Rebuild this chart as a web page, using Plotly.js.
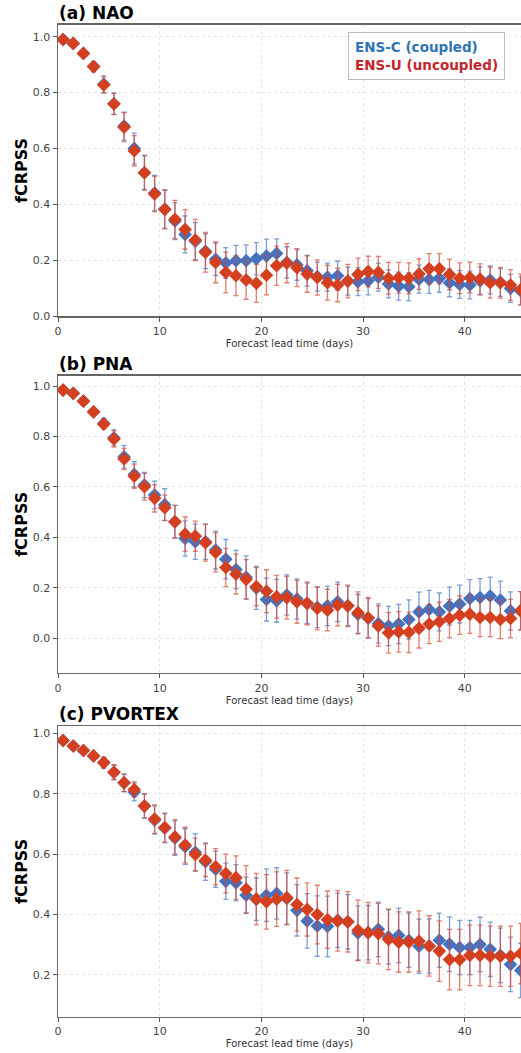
<!DOCTYPE html>
<html><head><meta charset="utf-8">
<script src="https://cdn.plot.ly/plotly-3.0.1.min.js"></script>
<style>html,body{margin:0;padding:0;background:#fff}#chart{width:521px;height:1053px}</style>
</head><body><div id="chart"></div>
<script>
const days = [0.5,1.5,2.5,3.5,4.5,5.5,6.5,7.5,8.5,9.5,10.5,11.5,12.5,13.5,14.5,15.5,16.5,17.5,18.5,19.5,20.5,21.5,22.5,23.5,24.5,25.5,26.5,27.5,28.5,29.5,30.5,31.5,32.5,33.5,34.5,35.5,36.5,37.5,38.5,39.5,40.5,41.5,42.5,43.5,44.5,45.5];

const naoC = [0.99,0.976,0.94,0.893,0.83,0.76,0.68,0.60,0.513,0.44,0.382,0.34,0.292,0.268,0.232,0.203,0.19,0.198,0.198,0.205,0.215,0.224,0.192,0.183,0.162,0.141,0.139,0.144,0.125,0.123,0.126,0.139,0.115,0.107,0.105,0.132,0.131,0.135,0.119,0.113,0.111,0.126,0.129,0.12,0.099,0.09];
const naoU = [0.99,0.976,0.94,0.893,0.827,0.759,0.676,0.592,0.513,0.437,0.382,0.346,0.31,0.272,0.228,0.192,0.156,0.144,0.129,0.117,0.146,0.18,0.189,0.173,0.15,0.138,0.119,0.111,0.125,0.149,0.159,0.156,0.135,0.137,0.135,0.15,0.169,0.169,0.149,0.135,0.138,0.132,0.119,0.119,0.111,0.095];
const naoCerr = [0.004,0.005,0.006,0.018,0.03,0.038,0.05,0.055,0.06,0.063,0.068,0.066,0.066,0.066,0.062,0.058,0.055,0.055,0.057,0.058,0.06,0.052,0.056,0.055,0.055,0.052,0.05,0.052,0.05,0.05,0.05,0.05,0.05,0.05,0.05,0.05,0.05,0.05,0.05,0.05,0.05,0.05,0.05,0.05,0.05,0.05];
const naoUerr = [0.004,0.005,0.006,0.018,0.029,0.038,0.052,0.054,0.062,0.064,0.07,0.068,0.071,0.074,0.071,0.073,0.073,0.071,0.069,0.068,0.07,0.07,0.07,0.068,0.065,0.063,0.062,0.06,0.06,0.058,0.055,0.057,0.057,0.055,0.055,0.055,0.054,0.054,0.055,0.055,0.055,0.055,0.055,0.055,0.055,0.055];

const pnaC = [0.984,0.971,0.94,0.898,0.852,0.795,0.72,0.65,0.608,0.568,0.53,0.462,0.396,0.383,0.383,0.35,0.314,0.273,0.242,0.2,0.154,0.149,0.172,0.156,0.139,0.123,0.129,0.145,0.129,0.096,0.08,0.059,0.049,0.057,0.075,0.105,0.115,0.105,0.128,0.136,0.158,0.162,0.168,0.152,0.109,0.11];
const pnaU = [0.984,0.971,0.94,0.898,0.849,0.79,0.711,0.643,0.601,0.555,0.518,0.462,0.413,0.405,0.379,0.341,0.281,0.255,0.234,0.205,0.187,0.165,0.161,0.145,0.139,0.119,0.112,0.132,0.129,0.102,0.082,0.049,0.022,0.026,0.024,0.04,0.057,0.066,0.079,0.092,0.096,0.083,0.083,0.075,0.079,0.109];
const pnaCerr = [0.004,0.005,0.006,0.01,0.02,0.032,0.045,0.05,0.05,0.055,0.063,0.065,0.07,0.07,0.07,0.075,0.078,0.076,0.085,0.085,0.085,0.085,0.08,0.08,0.08,0.08,0.078,0.078,0.078,0.078,0.078,0.078,0.078,0.078,0.078,0.078,0.075,0.075,0.075,0.075,0.075,0.075,0.075,0.075,0.075,0.075];
const pnaUerr = [0.004,0.005,0.006,0.01,0.02,0.032,0.042,0.048,0.053,0.054,0.05,0.065,0.068,0.06,0.073,0.077,0.076,0.079,0.078,0.076,0.085,0.085,0.085,0.085,0.085,0.085,0.082,0.082,0.082,0.082,0.08,0.08,0.08,0.08,0.08,0.078,0.078,0.078,0.076,0.076,0.076,0.076,0.076,0.076,0.076,0.076];

const pvC = [0.976,0.958,0.943,0.925,0.903,0.871,0.836,0.806,0.759,0.713,0.686,0.653,0.625,0.606,0.575,0.55,0.51,0.505,0.464,0.451,0.464,0.47,0.453,0.414,0.379,0.362,0.361,0.381,0.376,0.339,0.34,0.351,0.326,0.331,0.315,0.295,0.296,0.315,0.302,0.291,0.291,0.301,0.285,0.265,0.235,0.215];
const pvU = [0.976,0.958,0.943,0.925,0.903,0.871,0.836,0.814,0.759,0.716,0.688,0.657,0.63,0.599,0.58,0.558,0.536,0.522,0.484,0.451,0.442,0.451,0.456,0.433,0.417,0.4,0.383,0.379,0.376,0.348,0.34,0.337,0.318,0.309,0.309,0.312,0.296,0.279,0.251,0.251,0.265,0.265,0.262,0.262,0.262,0.271];
const pvCerr = [0.004,0.005,0.006,0.012,0.017,0.024,0.029,0.03,0.04,0.047,0.048,0.057,0.059,0.062,0.062,0.06,0.06,0.06,0.06,0.07,0.087,0.085,0.085,0.085,0.09,0.1,0.1,0.09,0.09,0.09,0.09,0.09,0.09,0.09,0.09,0.09,0.09,0.09,0.09,0.09,0.09,0.09,0.09,0.09,0.09,0.09];
const pvUerr = [0.004,0.005,0.006,0.012,0.017,0.024,0.029,0.025,0.04,0.047,0.048,0.057,0.059,0.054,0.054,0.06,0.064,0.072,0.078,0.085,0.09,0.09,0.09,0.088,0.088,0.097,0.095,0.1,0.1,0.1,0.1,0.1,0.1,0.1,0.1,0.1,0.1,0.1,0.1,0.1,0.1,0.1,0.1,0.1,0.1,0.1];

const panelTitles = ['(a) NAO','(b) PNA','(c) PVORTEX'];
const seriesNames = ['ENS-C (coupled)','ENS-U (uncoupled)'];
const xTicks = [0,10,20,30,40];
const xTitle = 'Forecast lead time (days)';
const yTitle = 'fCRPSS';

const blue = '#4572c0', red = '#d4401f';
const blueErr = 'rgba(79,125,200,0.75)', redErr = 'rgba(214,70,50,0.7)';
const font = 'DejaVu Sans, Arial, sans-serif';

const panels = [
  {c: naoC, u: naoU, ce: naoCerr, ue: naoUerr, yr: [0, 1.042], dom: [0.6999, 0.9763], tv: [0,0.2,0.4,0.6,0.8,1.0]},
  {c: pnaC, u: pnaU, ce: pnaCerr, ue: pnaUerr, yr: [-0.137, 1.041], dom: [0.3609, 0.6432], tv: [0,0.2,0.4,0.6,0.8,1.0]},
  {c: pvC, u: pvU, ce: pvCerr, ue: pvUerr, yr: [0.062, 1.024], dom: [0.0345, 0.3105], tv: [0.2,0.4,0.6,0.8,1.0]}
];

const data = [];
const layout = {
  width: 521, height: 1053,
  margin: {l: 58, r: 0, t: 0, b: 0},
  paper_bgcolor: '#fff', plot_bgcolor: '#fff',
  showlegend: false,
  font: {family: font, color: '#444'},
  annotations: [], shapes: []
};

panels.forEach((p, i) => {
  const sfx = i === 0 ? '' : String(i + 1);
  const xa = 'x' + sfx, ya = 'y' + sfx;
  data.push({
    x: days, y: p.c, type: 'scatter', mode: 'markers', name: seriesNames[0],
    xaxis: xa, yaxis: ya,
    marker: {symbol: 'diamond', size: 10.5, color: blue, line: {width: 0}},
    error_y: {type: 'data', array: p.ce, color: blueErr, thickness: 1.3, width: 2.5}
  });
  data.push({
    x: days, y: p.u, type: 'scatter', mode: 'markers', name: seriesNames[1],
    xaxis: xa, yaxis: ya,
    marker: {symbol: 'diamond', size: 10.5, color: red, line: {width: 0}},
    error_y: {type: 'data', array: p.ue, color: redErr, thickness: 1.3, width: 2.5}
  });
  layout['xaxis' + sfx] = {
    anchor: ya, domain: [0, 1], range: [0, 45.53],
    tickvals: xTicks, ticks: 'outside', ticklen: 4, tickwidth: 1, tickcolor: '#555',
    tickfont: {size: 11, color: '#444', family: font},
    showline: true, linecolor: '#666', linewidth: 1.5, mirror: true,
    showgrid: true, gridcolor: '#e6e6e6', griddash: 'dot', gridwidth: 1,
    zeroline: false,
    title: {text: xTitle, font: {size: 10, color: '#333', family: font}, standoff: 2}
  };
  layout['yaxis' + sfx] = {
    anchor: xa, domain: p.dom, range: p.yr,
    tickvals: p.tv, ticktext: p.tv.map(v => v.toFixed(1)),
    ticks: 'outside', ticklen: 4, tickwidth: 1, tickcolor: '#555',
    tickfont: {size: 11, color: '#444', family: font},
    showline: true, linecolor: '#666', linewidth: 1.5, mirror: false,
    showgrid: true, gridcolor: '#e6e6e6', griddash: 'dot', gridwidth: 1,
    zeroline: false,
    title: {text: '<b>' + yTitle + '</b>', font: {size: 16, color: '#000', family: font}, standoff: 1}
  };
  layout.annotations.push({
    xref: 'paper', yref: 'paper', x: -0.003, y: p.dom[1], xanchor: 'left', yanchor: 'bottom', yshift: 0,
    text: '<b>' + panelTitles[i] + '</b>', showarrow: false,
    font: {size: 17, color: '#000', family: font}
  });
});

layout.annotations.push({
  xref: 'paper', yref: 'paper', x: 0.9645, y: 0.9695, xanchor: 'right', yanchor: 'top',
  align: 'left', showarrow: false,
  text: '<b><span style="color:#2f74b5">' + seriesNames[0] + '</span><br><span style="color:#c2272d">' + seriesNames[1] + '</span></b>',
  font: {size: 13.5, family: font},
  bgcolor: '#fff', bordercolor: '#bbb', borderwidth: 1, borderpad: 6
});

Plotly.newPlot('chart', data, layout, {displayModeBar: false, staticPlot: true});
</script></body></html>
